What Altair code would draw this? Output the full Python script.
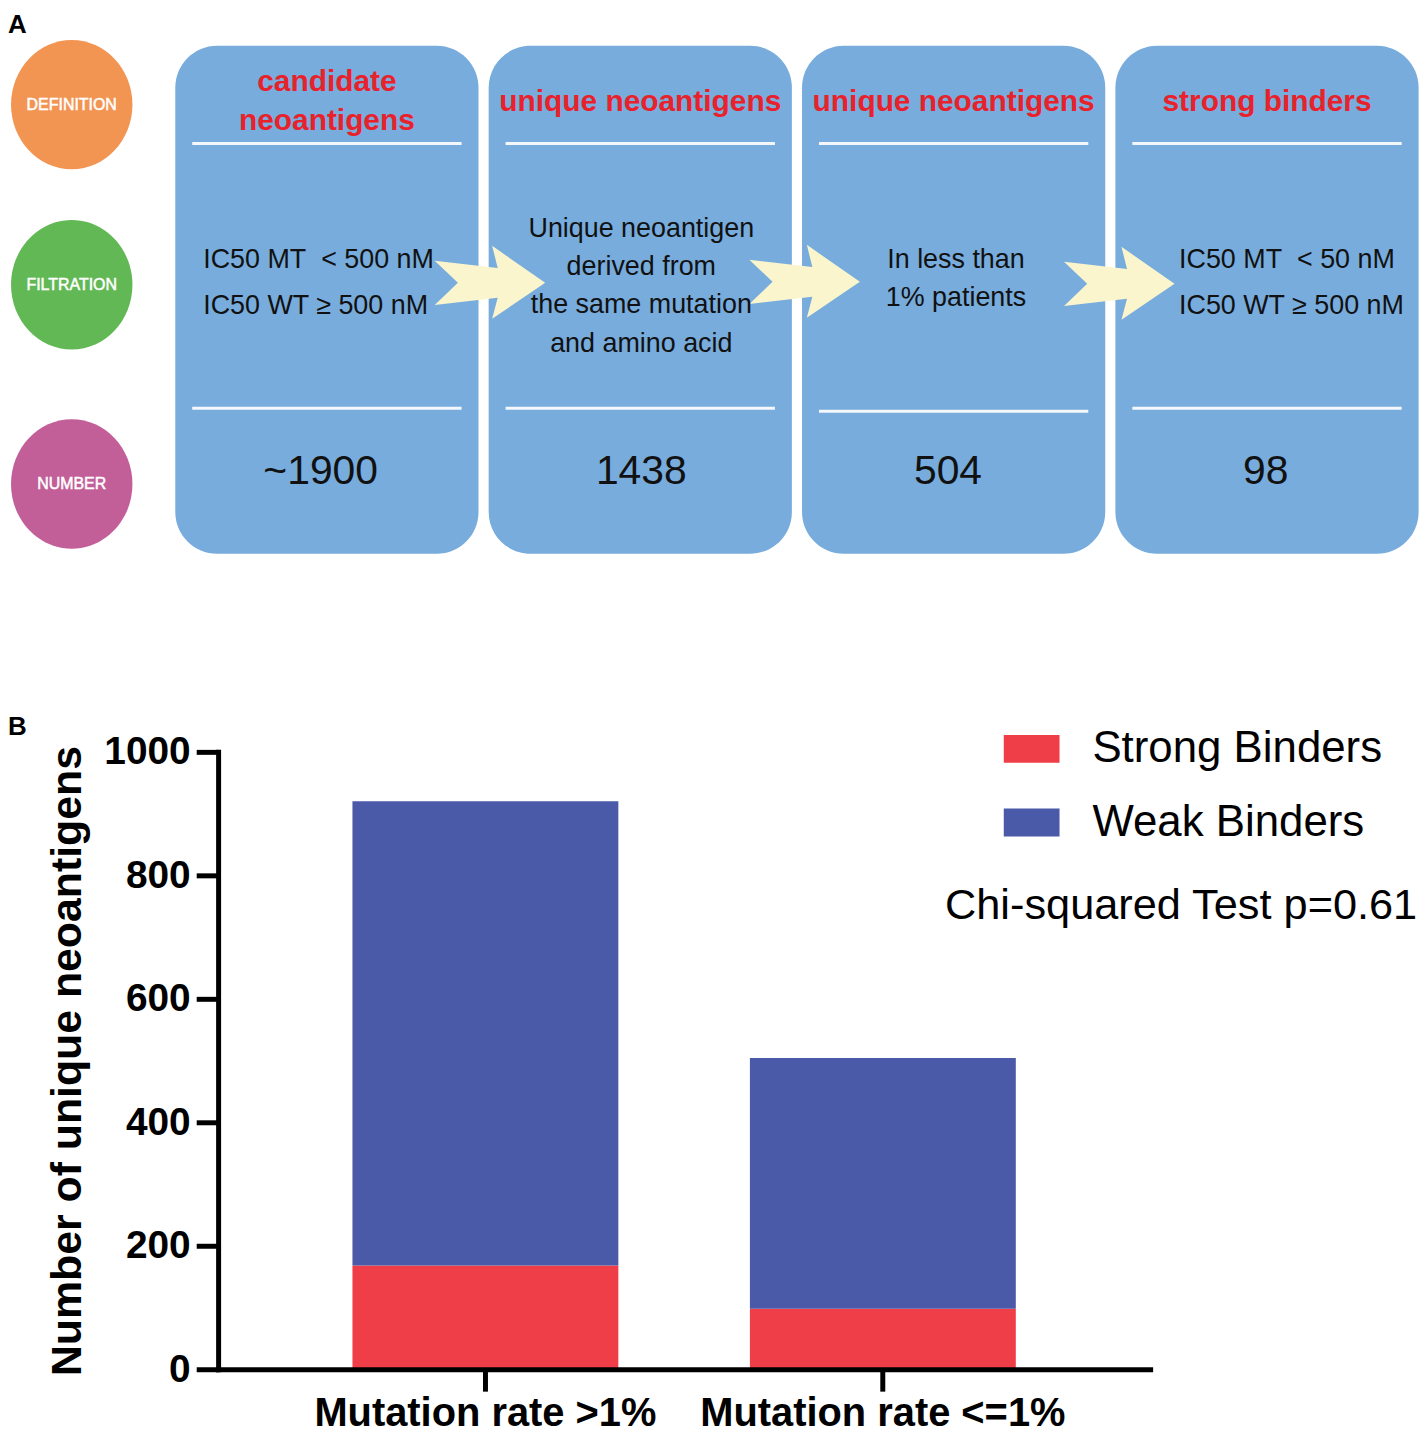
import altair as alt
import pandas as pd

# ------------------------------------------------------------------ data
panel_labels = ["A", "B"]
row_labels = ["DEFINITION", "FILTRATION", "NUMBER"]
row_colors = ["#F39552", "#63B856", "#C25E98"]
box_titles = [["candidate", "neoantigens"], ["unique neoantigens"],
              ["unique neoantigens"], ["strong binders"]]
box_filters = [["IC50 MT\u00a0 < 500 nM", "IC50 WT \u2265 500 nM"],
               ["Unique neoantigen", "derived from", "the same mutation", "and amino acid"],
               ["In less than", "1% patients"],
               ["IC50 MT\u00a0 < 50 nM", "IC50 WT \u2265 500 nM"]]
box_numbers = ["~1900", "1438", "504", "98"]

categories = ["Mutation rate >1%", "Mutation rate <=1%"]
binder_types = ["Strong Binders", "Weak Binders"]
strong_counts = [168, 98]
weak_counts = [752, 406]
y_ticks = [0, 200, 400, 600, 800, 1000]
y_title = "Number of unique neoantigens"
stat_note = "Chi-squared Test p=0.61"

# ------------------------------------------------------------------ layout (reference pixel frame)
FONT = "Liberation Sans"
OFF = 8
W, H = 1418, 1424
BOX_COLOR = "#77ACDD"
BOX_L0, BOX_STEP, BOX_W = 176, 314.7, 304.5
BOX_TOP, BOX_BOT = 43, 553
lefts = [BOX_L0 + i * BOX_STEP for i in range(4)]
rights = [l + BOX_W for l in lefts]
centers = [l + BOX_W / 2 for l in lefts]
sep_y = [[141, 407], [141, 407], [141, 410], [141, 407]]
title_center, title_spacing = 99, 39
filt_center = [281, 284.5, 277, 281]
filt_spacing = [46, 38.4, 38, 46]
filt_x = [204, 644, 960, 1184]
filt_align = ["left", "center", "center", "left"]
num_x = [322, 644, 952, 1271]
num_y = 471
arrow_x = [492, 808, 1124]
arrow_y = [281, 280, 282]
circle_x = 72
circle_y = [102, 283, 483]
panel_pos = [(OFF, 22), (OFF, 727)]

# bar-chart frame (svg pixels)
AX_X0, AX_X1 = 211, 1147
AX_Y0, AX_Y1 = 1364, 744

ELLIPSE = ("M0.938,0C0.938,0.552,0.518,1,0,1C-0.518,1,-0.938,0.552,-0.938,0"
           "C-0.938,-0.552,-0.518,-1,0,-1C0.518,-1,0.938,-0.552,0.938,0Z")
ARROW = "M-1,-0.40L0.14,-0.27L0.04,-0.67L1,0L0.04,0.65L0.14,0.27L-1,0.40L-0.58,0Z"
RECT = "M-1,-0.5H1V0.5H-1Z"

xs = alt.Scale(domain=[OFF, OFF + W], range=[0, W], nice=False, zero=False)
ys = alt.Scale(domain=[OFF, OFF + H], range=[0, H], nice=False, zero=False)


def X(f="x"):
    return alt.X(f"{f}:Q", scale=xs, axis=None)


def Y(f="y"):
    return alt.Y(f"{f}:Q", scale=ys, axis=None)


# ------------------------------------------------------------------ diagram tables
boxes_df = pd.DataFrame({"x": lefts, "x2": rights,
                         "y": [BOX_TOP] * 4, "y2": [BOX_BOT] * 4})
rules_rows = []
for i in range(4):
    for yy in sep_y[i]:
        rules_rows.append({"x": lefts[i] + 17, "x2": rights[i] - 17, "y": yy})
rules_df = pd.DataFrame(rules_rows)

circ_df = pd.DataFrame({"x": [circle_x] * 3, "y": circle_y,
                        "col": row_colors, "label": row_labels})
arrow_df = pd.DataFrame({"x": arrow_x, "y": arrow_y})

title_rows = []
for i, lines in enumerate(box_titles):
    n = len(lines)
    for j, t in enumerate(lines):
        title_rows.append({"x": centers[i],
                           "y": title_center + (j - (n - 1) / 2) * title_spacing,
                           "t": t})
title_df = pd.DataFrame(title_rows)

filt_rows = []
for i, lines in enumerate(box_filters):
    n = len(lines)
    for j, t in enumerate(lines):
        filt_rows.append({"x": filt_x[i],
                          "y": filt_center[i] + (j - (n - 1) / 2) * filt_spacing[i],
                          "t": t, "al": filt_align[i]})
filt_df = pd.DataFrame(filt_rows)

num_df = pd.DataFrame({"x": num_x, "y": [num_y] * 4, "t": box_numbers})
panel_df = pd.DataFrame({"x": [p[0] for p in panel_pos],
                         "y": [p[1] for p in panel_pos], "t": panel_labels})
chi_df = pd.DataFrame({"x": [949], "y": [907], "t": [stat_note]})

# ------------------------------------------------------------------ diagram layers
boxes = alt.Chart(boxes_df).mark_rect(cornerRadius=42, color=BOX_COLOR).encode(
    x=X("x"), x2=alt.X2("x2"), y=Y("y"), y2=alt.Y2("y2"))
rules = alt.Chart(rules_df).mark_rule(color="#F4F7FB", strokeWidth=3).encode(
    x=X("x"), x2=alt.X2("x2"), y=Y("y"))
arrows = alt.Chart(arrow_df).mark_point(
    shape=ARROW, size=111 ** 2, filled=True, color="#FBF5CD", opacity=1,
    strokeWidth=0).encode(x=X(), y=Y())
circles = alt.Chart(circ_df).mark_point(
    shape=ELLIPSE, size=130 ** 2, filled=True, opacity=1, strokeWidth=0).encode(
    x=X(), y=Y(), fill=alt.Fill("col:N", scale=None, legend=None))
circ_labels = alt.Chart(circ_df).mark_text(
    color="white", fontSize=16, font=FONT, align="center", baseline="middle",
    stroke="white", strokeWidth=0.5).encode(
    x=X(), y=Y(), text="label:N")
titles = alt.Chart(title_df).mark_text(
    color="#E8212B", fontSize=30, fontWeight="bold", font=FONT,
    align="center", baseline="middle").encode(x=X(), y=Y(), text="t:N")
filt_left = alt.Chart(filt_df[filt_df["al"] == "left"]).mark_text(
    color="#111111", fontSize=27, font=FONT, align="left", baseline="middle").encode(
    x=X(), y=Y(), text="t:N")
filt_center_l = alt.Chart(filt_df[filt_df["al"] == "center"]).mark_text(
    color="#111111", fontSize=27, font=FONT, align="center", baseline="middle").encode(
    x=X(), y=Y(), text="t:N")
numbers = alt.Chart(num_df).mark_text(
    color="#111111", fontSize=41, font=FONT, align="center", baseline="middle").encode(
    x=X(), y=Y(), text="t:N")
panels = alt.Chart(panel_df).mark_text(
    color="black", fontSize=26, fontWeight="bold", font=FONT,
    align="left", baseline="middle").encode(x=X(), y=Y(), text="t:N")
chi = alt.Chart(chi_df).mark_text(
    color="black", fontSize=43.5, font=FONT, align="left", baseline="middle").encode(
    x=X(), y=Y(), text="t:N")

diagram = alt.layer(boxes, rules, arrows, circles, circ_labels, titles,
                    filt_left, filt_center_l, numbers, panels, chi)

# ------------------------------------------------------------------ bar chart
bar_rows = []
for c, s, w in zip(categories, strong_counts, weak_counts):
    bar_rows.append({"category": c, "type": binder_types[0], "count": s, "ord": 0})
    bar_rows.append({"category": c, "type": binder_types[1], "count": w, "ord": 1})
bar_df = pd.DataFrame(bar_rows)

bars = alt.Chart(bar_df).mark_bar().encode(
    x=alt.X("category:N", sort=categories,
            scale=alt.Scale(range=[AX_X0, AX_X1], paddingInner=0.331, paddingOuter=0.338),
            axis=alt.Axis(orient="bottom", offset=-(H - AX_Y0), title=None,
                          labelAngle=0, labelFont=FONT, labelFontSize=40,
                          labelFontWeight="bold", labelColor="black", labelPadding=3,
                          labelLimit=1000, domainColor="black", domainWidth=5,
                          domainCap="square", tickColor="black", tickWidth=5,
                          tickSize=22, grid=False, zindex=1)),
    y=alt.Y("count:Q", stack="zero",
            scale=alt.Scale(domain=[0, 1000], range=[AX_Y0, AX_Y1], nice=False),
            axis=alt.Axis(orient="left", offset=-AX_X0, values=y_ticks, format="d",
                          title=y_title,
                          labelFont=FONT, labelFontSize=39, labelFontWeight="bold",
                          labelColor="black", labelPadding=6, domainColor="black",
                          domainWidth=5, domainCap="square", tickColor="black",
                          tickWidth=5, tickSize=22, grid=False, zindex=1,
                          titleFont=FONT, titleFontSize=43, titleFontWeight="bold",
                          titleColor="black", titleAngle=270, titleX=-138,
                          titleY=(AX_Y0 + AX_Y1) / 2, titleBaseline="alphabetic",
                          titleAlign="center")),
    color=alt.Color("type:N", sort=binder_types,
                    scale=alt.Scale(domain=binder_types, range=["#EF3E47", "#4A5AA8"]),
                    legend=alt.Legend(orient="none", legendX=1000, legendY=713, title=None,
                                      symbolType=RECT, symbolSize=3136,
                                      symbolStrokeWidth=0, symbolOpacity=1,
                                      labelFont=FONT, labelFontSize=44,
                                      labelColor="black", labelOffset=33,
                                      rowPadding=24, padding=0, labelLimit=1000)),
    order=alt.Order("ord:Q", sort="ascending"),
)

chart = alt.layer(diagram, bars).resolve_scale(
    x="independent", y="independent", color="independent"
).properties(
    width=W, height=H, padding=0, autosize=alt.AutoSizeParams(type="none")
).configure_view(stroke=None)

chart.save("out.html", embed_options={"renderer": "svg", "actions": False})
